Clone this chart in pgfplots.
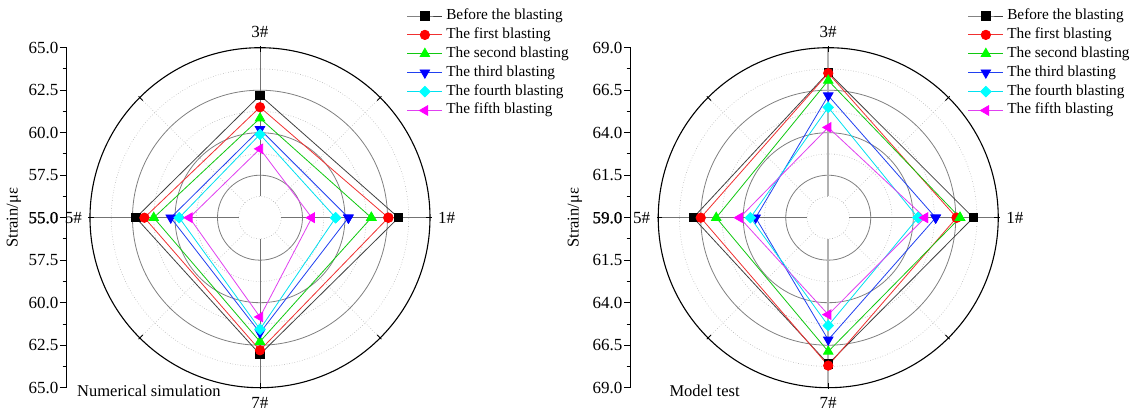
\documentclass[border=0pt]{standalone}
\usepackage{fontspec}
\setmainfont{Liberation Serif}
\newfontfamily\fbold[FakeBold=1.2]{Liberation Serif}
\usepackage{pgfplots}
\pgfplotsset{compat=1.18}
\usepackage{pgfplotstable}

\definecolor{lnblack}{HTML}{404040}
\definecolor{lnred}{HTML}{F03030}
\definecolor{mkred}{HTML}{FF0000}
\definecolor{lngreen}{HTML}{10C810}
\definecolor{mkgreen}{HTML}{00FF00}
\definecolor{lnblue}{HTML}{2040F0}
\definecolor{mkblue}{HTML}{0000FF}
\definecolor{lncyan}{HTML}{00E0F0}
\definecolor{mkcyan}{HTML}{00FFFF}
\definecolor{lnmag}{HTML}{E040F0}
\definecolor{mkmag}{HTML}{FF00FF}

% Numerical simulation: angle (deg), strain value
\pgfplotstableread{
a v
0 63.15
90 62.20
180 62.30
270 63.04
0 63.15
}\nA
\pgfplotstableread{
a v
0 62.55
90 61.50
180 61.80
270 62.80
0 62.55
}\nB
\pgfplotstableread{
a v
0 61.55
90 60.85
180 61.25
270 62.29
0 61.55
}\nC
\pgfplotstableread{
a v
0 60.20
90 60.20
180 60.25
270 61.77
0 60.20
}\nD
\pgfplotstableread{
a v
0 59.45
90 59.90
180 59.75
270 61.56
0 59.45
}\nE
\pgfplotstableread{
a v
0 58.05
90 59.05
180 59.15
270 60.84
0 58.05
}\nF

% Model test
\pgfplotstableread{
a v
0 67.53
90 67.54
180 66.94
270 67.60
0 67.53
}\mA
\pgfplotstableread{
a v
0 66.55
90 67.50
180 66.50
270 67.70
0 66.55
}\mB
\pgfplotstableread{
a v
0 66.75
90 67.07
180 65.59
270 66.87
0 66.75
}\mC
\pgfplotstableread{
a v
0 65.32
90 66.18
180 63.27
270 66.18
0 65.32
}\mD
\pgfplotstableread{
a v
0 64.28
90 65.49
180 63.58
270 65.35
0 64.28
}\mE
\pgfplotstableread{
a v
0 64.69
90 64.31
180 64.21
270 64.70
0 64.69
}\mF

\pgfplotsset{
  radar/.style={
    x=17pt, y=17pt, ymin=-10, ymax=10, xmax=10,
    scale only axis, clip=false,
    axis x line=none, axis y line*=left, xtick=\empty,
    axis line style={line width=0.9pt, black},
    ytick={-10,-7.5,...,10}, minor y tick num=1,
    tick align=outside, major tick length=6.7pt, minor tick length=4pt,
    tick style={black, line width=0.9pt},
    yticklabel style={font=\fontsize{17}{20}\selectfont, inner sep=1.5pt},
    legend cell align=left,
    legend style={draw=none, fill=none, inner sep=0pt, outer sep=0pt,
      font=\fontsize{15.3}{18}\selectfont, row sep=3.9pt, column sep=3.5pt,
      nodes={inner sep=0pt, text height=11pt, text depth=4pt},
      anchor=north west},
    legend image code/.code={\draw[mark repeat=2,mark phase=2,##1] plot coordinates {(0pt,0pt) (17.5pt,0pt) (35pt,0pt)};},
  },
  s0/.style={lnblack, line width=0.8pt, mark=square*, mark size=4.2pt, mark options={solid, fill=black, draw=black}},
  s1/.style={lnred, line width=0.8pt, mark=*, mark size=4.7pt, mark options={solid, fill=mkred, draw=mkred}},
  s2/.style={lngreen, line width=0.8pt, mark=triangle*, mark size=5.5pt, mark options={solid, fill=mkgreen, draw=mkgreen}},
  s3/.style={lnblue, line width=0.8pt, mark=triangle*, mark size=5.5pt, mark options={solid, fill=mkblue, draw=mkblue, rotate=180}},
  s4/.style={lncyan, line width=0.8pt, mark=square*, mark size=3.7pt, mark options={solid, fill=mkcyan, draw=mkcyan, rotate=45}},
  s5/.style={lnmag, line width=0.8pt, mark=triangle*, mark size=5.5pt, mark options={solid, fill=mkmag, draw=mkmag, rotate=90}},
}

\newcommand{\radargrid}[1]{%
  \draw[dotted, black!30, line width=0.6pt] (axis cs:0,0) circle[radius=21.25pt];
  \draw[dotted, black!30, line width=0.6pt] (axis cs:0,0) circle[radius=63.75pt];
  \draw[dotted, black!30, line width=0.6pt] (axis cs:0,0) circle[radius=106.25pt];
  \draw[dotted, black!30, line width=0.6pt] (axis cs:0,0) circle[radius=148.75pt];
  \draw[dotted, black!30, line width=0.6pt] (axis cs:0.8839,0.8839) -- (axis cs:7.0711,7.0711);
  \draw[dotted, black!30, line width=0.6pt] (axis cs:-0.8839,0.8839) -- (axis cs:-7.0711,7.0711);
  \draw[dotted, black!30, line width=0.6pt] (axis cs:-0.8839,-0.8839) -- (axis cs:-7.0711,-7.0711);
  \draw[dotted, black!30, line width=0.6pt] (axis cs:0.8839,-0.8839) -- (axis cs:7.0711,-7.0711);
  \draw[black!50, line width=0.8pt] (axis cs:0,0) circle[radius=42.5pt];
  \draw[black!50, line width=0.8pt] (axis cs:0,0) circle[radius=85pt];
  \draw[black!50, line width=0.8pt] (axis cs:0,0) circle[radius=127.5pt];
  \draw[black!55, line width=0.8pt] (axis cs:1.25,0) -- (axis cs:10,0);
  \draw[black!55, line width=0.8pt] (axis cs:-1.25,0) -- (axis cs:-10,0);
  \draw[#1] (axis cs:0,1.25) -- (axis cs:0,10);
  \draw[#1] (axis cs:0,-1.25) -- (axis cs:0,-10);
  \draw[black, line width=1.1pt] (axis cs:0,0) circle[radius=170pt];
  \draw[black, line width=0.9pt] (axis cs:9.75,0) -- (axis cs:10.1,0);
  \draw[black, line width=0.9pt] (axis cs:-9.75,0) -- (axis cs:-10.1,0);
  \draw[black, line width=0.9pt] (axis cs:0,9.75) -- (axis cs:0,10.1);
  \draw[black, line width=0.9pt] (axis cs:0,-9.75) -- (axis cs:0,-10.1);
  \draw[black, line width=0.9pt] (axis cs:6.894,6.894) -- (axis cs:7.142,7.142);
  \draw[black, line width=0.9pt] (axis cs:-6.894,6.894) -- (axis cs:-7.142,7.142);
  \draw[black, line width=0.9pt] (axis cs:-6.894,-6.894) -- (axis cs:-7.142,-7.142);
  \draw[black, line width=0.9pt] (axis cs:6.894,-6.894) -- (axis cs:7.142,-7.142);
}

\newcommand{\lbl}{\fontsize{17}{20}\selectfont}

\begin{document}
\begin{tikzpicture}
\useasboundingbox (0,0) rectangle (1135pt,410pt);

% ---------------- Numerical simulation ----------------
\begin{axis}[radar, at={(66.7pt,22.3pt)}, anchor=south west,
  xmin=-11.37,
  yticklabels={65.0,62.5,60.0,57.5,{\fbold 55.0},57.5,60.0,62.5,65.0},
  legend style={at={(axis cs:8.647,12.306)}}]
\radargrid{black!55, line width=0.8pt}
\addplot[s0] table[x expr={(\thisrow{v}-55)*cos(\thisrow{a})}, y expr={(\thisrow{v}-55)*sin(\thisrow{a})}] {\nA};
\addplot[s1] table[x expr={(\thisrow{v}-55)*cos(\thisrow{a})}, y expr={(\thisrow{v}-55)*sin(\thisrow{a})}] {\nB};
\addplot[s2] table[x expr={(\thisrow{v}-55)*cos(\thisrow{a})}, y expr={(\thisrow{v}-55)*sin(\thisrow{a})}] {\nC};
\addplot[s3] table[x expr={(\thisrow{v}-55)*cos(\thisrow{a})}, y expr={(\thisrow{v}-55)*sin(\thisrow{a})}] {\nD};
\addplot[s4] table[x expr={(\thisrow{v}-55)*cos(\thisrow{a})}, y expr={(\thisrow{v}-55)*sin(\thisrow{a})}] {\nE};
\addplot[s5] table[x expr={(\thisrow{v}-55)*cos(\thisrow{a})}, y expr={(\thisrow{v}-55)*sin(\thisrow{a})}] {\nF};
\legend{Before the blasting,The first blasting,The second blasting,The third blasting,The fourth blasting,The fifth blasting}
\node[anchor=base, inner sep=0pt, font=\lbl, yshift=10.6pt] at (axis cs:0,10) {3\#};
\node[anchor=base, inner sep=0pt, font=\lbl, yshift=-20.3pt] at (axis cs:0,-10) {7\#};
\node[anchor=west, inner sep=0pt, font=\lbl, xshift=8pt] at (axis cs:10,0) {1\#};
\node[anchor=east, inner sep=0pt, font=\lbl, xshift=-8pt] at (axis cs:-10,0) {5\#};
\node[anchor=center, inner sep=0pt, rotate=90, font=\fontsize{16.5}{19}\selectfont, xshift=0pt] at ([xshift=-52.7pt]axis cs:-11.37,0) {Strain/με};
\node[anchor=base west, inner sep=0pt, font=\fontsize{16.5}{19}\selectfont] at ([xshift=10.3pt, yshift=-9pt]axis cs:-11.37,-10) {Numerical simulation};
\end{axis}

% ---------------- Model test ----------------
\begin{axis}[radar, at={(630.7pt,22.3pt)}, anchor=south west,
  xmin=-11.62,
  yticklabels={69.0,66.5,64.0,61.5,{\fbold 59.0},61.5,64.0,66.5,69.0},
  legend style={at={(axis cs:8.218,12.306)}}]
\radargrid{black!30, line width=1.5pt}
\addplot[s0] table[x expr={(\thisrow{v}-59)*cos(\thisrow{a})}, y expr={(\thisrow{v}-59)*sin(\thisrow{a})}] {\mA};
\addplot[s1] table[x expr={(\thisrow{v}-59)*cos(\thisrow{a})}, y expr={(\thisrow{v}-59)*sin(\thisrow{a})}] {\mB};
\addplot[s2] table[x expr={(\thisrow{v}-59)*cos(\thisrow{a})}, y expr={(\thisrow{v}-59)*sin(\thisrow{a})}] {\mC};
\addplot[s3] table[x expr={(\thisrow{v}-59)*cos(\thisrow{a})}, y expr={(\thisrow{v}-59)*sin(\thisrow{a})}] {\mD};
\addplot[s4] table[x expr={(\thisrow{v}-59)*cos(\thisrow{a})}, y expr={(\thisrow{v}-59)*sin(\thisrow{a})}] {\mE};
\addplot[s5] table[x expr={(\thisrow{v}-59)*cos(\thisrow{a})}, y expr={(\thisrow{v}-59)*sin(\thisrow{a})}] {\mF};
\legend{Before the blasting,The first blasting,The second blasting,The third blasting,The fourth blasting,The fifth blasting}
\node[anchor=base, inner sep=0pt, font=\lbl, yshift=10.6pt] at (axis cs:0,10) {3\#};
\node[anchor=base, inner sep=0pt, font=\lbl, yshift=-20.3pt] at (axis cs:0,-10) {7\#};
\node[anchor=west, inner sep=0pt, font=\lbl, xshift=8pt] at (axis cs:10,0) {1\#};
\node[anchor=east, inner sep=0pt, font=\lbl, xshift=-8pt] at (axis cs:-10,0) {5\#};
\node[anchor=center, inner sep=0pt, rotate=90, font=\fontsize{16.5}{19}\selectfont] at ([xshift=-55.7pt]axis cs:-11.62,0) {Strain/με};
\node[anchor=base west, inner sep=0pt, font=\fontsize{16.5}{19}\selectfont] at ([xshift=38.6pt, yshift=-9pt]axis cs:-11.62,-10) {Model test};
\end{axis}
\end{tikzpicture}
\end{document}
